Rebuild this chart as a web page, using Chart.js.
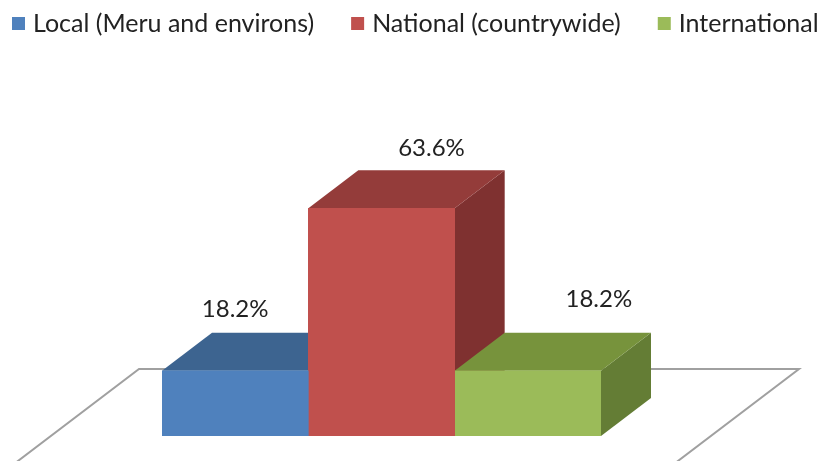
<!DOCTYPE html>
<html>
<head>
<meta charset="utf-8">
<script src="https://cdn.jsdelivr.net/npm/chart.js@4.4.1/dist/chart.umd.min.js"></script>
<style>
  html, body { margin: 0; padding: 0; background: #fff; }
  #wrap { width: 817px; height: 461px; }
</style>
</head>
<body>
<div id="wrap"><canvas id="myChart"></canvas></div>
<script>
// data
var categories = [''];
var seriesNames = ['Local (Meru and environs)', 'National (countrywide)', 'International'];
var seriesValues = [18.2, 63.6, 18.2];

// styles
var frontColors = ['#4F81BD', '#C0504D', '#9BBB59'];
var topColors = ['#3D6490', '#943C3A', '#77933C'];
var sideColors = ['#34557C', '#7F3130', '#647D35'];
var depth = { x: 50, y: -38 };
var labelOffsets = [[0, -62], [50, -60], [71, -72]];

function quad(ctx, pts, color) {
    ctx.fillStyle = color;
    ctx.beginPath();
    ctx.moveTo(pts[0][0], pts[0][1]);
    for (var i = 1; i < pts.length; i++) ctx.lineTo(pts[i][0], pts[i][1]);
    ctx.closePath();
    ctx.fill();
}

var bar3d = {
    id: 'bar3d',
    beforeDatasetsDraw: function(chart) {
        var ctx = chart.ctx;
        var area = chart.chartArea;
        var y0 = chart.scales.y.getPixelForValue(0);

        // floor outline
        var backY = y0 - 67;
        var bl = area.left - 23, br = area.right + 198;
        var k = 4;
        ctx.save();
        ctx.strokeStyle = '#A0A0A0';
        ctx.lineWidth = 2;
        ctx.beginPath();
        ctx.moveTo(bl - depth.x * k, backY - depth.y * k);
        ctx.lineTo(bl, backY);
        ctx.lineTo(br, backY);
        ctx.lineTo(br - depth.x * k, backY - depth.y * k);
        ctx.stroke();

        // tops and sides, drawn left to right so later bars cover earlier sides
        chart.data.datasets.forEach(function(ds, i) {
            var el = chart.getDatasetMeta(i).data[0];
            var p = el.getProps(['x', 'y', 'base', 'width'], true);
            var l = p.x - p.width / 2, r = p.x + p.width / 2, t = p.y, b = p.base;
            quad(ctx, [[r, t], [r + depth.x, t + depth.y], [r + depth.x, b + depth.y], [r, b]], sideColors[i]);
            quad(ctx, [[l, t], [l + depth.x, t + depth.y], [r + depth.x, t + depth.y], [r, t]], topColors[i]);
        });
        ctx.restore();
    },
    afterDatasetsDraw: function(chart) {
        var ctx = chart.ctx;
        ctx.save();
        ctx.fillStyle = '#222';
        ctx.font = '24px Lato';
        ctx.textAlign = 'center';
        ctx.textBaseline = 'middle';
        chart.data.datasets.forEach(function(ds, i) {
            var el = chart.getDatasetMeta(i).data[0];
            ctx.fillText(ds.data[0].toFixed(1) + '%', el.x + labelOffsets[i][0], el.y + labelOffsets[i][1]);
        });

        // legend row
        ctx.font = '25px Lato';
        ctx.textAlign = 'left';
        var box = 13, gapText = 8, gapItem = 37;
        var x = 12;
        var cy = 23.5;
        seriesNames.forEach(function(n, i) {
            ctx.fillStyle = frontColors[i];
            ctx.fillRect(x, cy - box / 2, box, box);
            ctx.fillStyle = '#222';
            ctx.fillText(n, x + box + gapText, cy);
            x += box + gapText + ctx.measureText(n).width + gapItem;
        });
        ctx.restore();
    }
};

var hiddenAxis = {
    display: true,
    grid: { display: false },
    ticks: { display: false },
    border: { display: false }
};

new Chart(document.getElementById('myChart').getContext('2d'), {
    type: 'bar',
    plugins: [bar3d],
    data: {
        labels: categories,
        datasets: seriesNames.map(function(name, i) {
            return {
                label: name,
                data: [seriesValues[i]],
                backgroundColor: frontColors[i],
                borderWidth: 0,
                categoryPercentage: 1,
                barPercentage: 1
            };
        })
    },
    options: {
        responsive: true,
        maintainAspectRatio: false,
        animation: false,
        layout: { padding: { top: 78 } },
        plugins: {
            legend: { display: false },
            tooltip: { enabled: false }
        },
        scales: {
            x: Object.assign({}, hiddenAxis, {
                afterFit: function(s) { s.height = 25; }
            }),
            y: Object.assign({}, hiddenAxis, {
                min: 0, max: 100,
                afterFit: function(s) { s.width = 162; }
            }),
            y2: Object.assign({}, hiddenAxis, {
                position: 'right',
                afterFit: function(s) { s.width = 216; }
            })
        }
    }
});
</script>
</body>
</html>
